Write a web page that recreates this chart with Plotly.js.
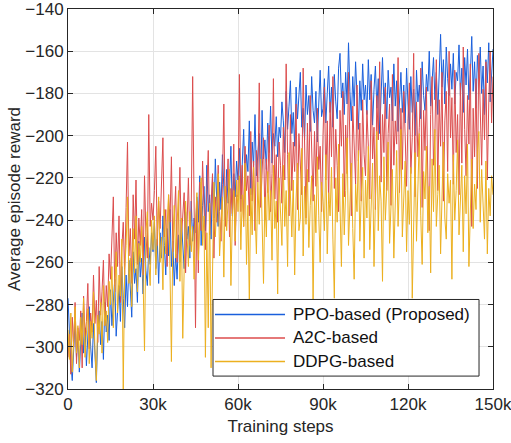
<!DOCTYPE html>
<html>
<head>
<meta charset="utf-8">
<script src="https://cdn.plot.ly/plotly-3.0.1.min.js"></script>
<style>html,body{margin:0;padding:0;background:#fff;}#chart{width:511px;height:443px;}</style>
</head>
<body>
<div id="chart"></div>
<script>
// Training steps: one sample every 500 steps, 0 .. 150k
const STEP = 500;
const xTickVals = [0, 30000, 60000, 90000, 120000, 150000];
const xTickText = ['0', '30k', '60k', '90k', '120k', '150k'];
const yTickVals = [-320, -300, -280, -260, -240, -220, -200, -180, -160, -140];

const seriesNames = ['PPO-based (Proposed)', 'A2C-based', 'DDPG-based'];

const ppoReward = [
  -277,-296,-308,-316,-299,-287,-305,-293,-312,-298,-284,-303,-291,-309,-296,-281,-300,-310,-289,-302,-317,-294,-283,-299,-288,-306,-279,-293,-285,-297,
  -273,-290,-280,-268,-295,-284,-271,-288,-262,-277,-291,-266,-281,-259,-274,-286,-255,-270,-263,-279,-250,-267,-258,-275,-248,-264,-271,-253,-261,-246,
  -255,-241,-263,-249,-270,-246,-258,-238,-252,-266,-244,-257,-235,-262,-250,-271,-256,-268,-247,-260,-240,-254,-263,-236,-249,-243,-258,-231,-250,-239,
  -246,-229,-241,-219,-252,-233,-224,-245,-214,-236,-228,-249,-220,-239,-211,-231,-243,-222,-235,-209,-227,-240,-216,-232,-224,-205,-238,-218,-229,-212,
  -221,-206,-230,-212,-197,-224,-209,-217,-193,-228,-203,-214,-190,-219,-207,-199,-225,-188,-211,-202,-216,-194,-208,-186,-213,-199,-205,-191,-210,-196,
  -201,-184,-193,-208,-179,-197,-186,-174,-199,-189,-205,-177,-192,-183,-170,-196,-187,-202,-176,-190,-181,-198,-172,-188,-194,-179,-203,-185,-169,-191,
  -187,-173,-194,-180,-167,-189,-177,-196,-171,-184,-192,-168,-161,-182,-175,-190,-170,-185,-156,-179,-193,-172,-186,-165,-181,-197,-174,-188,-166,-183,
  -176,-190,-164,-183,-171,-195,-178,-167,-187,-173,-199,-181,-163,-185,-175,-192,-169,-182,-177,-193,-166,-186,-174,-198,-180,-170,-189,-176,-194,-168,
  -185,-197,-172,-189,-178,-200,-169,-184,-176,-192,-165,-181,-188,-171,-179,-160,-186,-174,-163,-183,-170,-190,-167,-152,-177,-164,-185,-158,-173,-181,
  -166,-178,-161,-185,-170,-174,-157,-181,-168,-189,-163,-176,-159,-183,-171,-153,-179,-165,-187,-162,-173,-158,-180,-167,-190,-164,-175,-156,-184,-169,
  -159
];

const a2cReward = [
  -305,-294,-313,-286,-300,-279,-308,-291,-297,-283,-310,-276,-295,-288,-270,-301,-284,-293,-266,-289,-278,-298,-262,-285,-274,-259,-290,-271,-281,-256,
  -268,-251,-229,-274,-246,-262,-238,-279,-253,-241,-266,-234,-203,-257,-244,-270,-228,-249,-221,-261,-239,-252,-235,-266,-219,-247,-258,-190,-243,-232,
  -240,-226,-205,-252,-231,-244,-219,-201,-248,-235,-262,-228,-241,-210,-255,-237,-224,-260,-233,-215,-249,-238,-227,-265,-243,-220,-252,-234,-172,-246,
  -291,-231,-265,-222,-245,-212,-238,-254,-226,-207,-247,-233,-218,-258,-229,-241,-214,-236,-250,-223,-185,-243,-230,-211,-248,-225,-237,-204,-252,-228,
  -229,-171,-236,-214,-243,-205,-226,-219,-238,-198,-231,-212,-245,-207,-222,-175,-234,-216,-201,-240,-211,-227,-195,-236,-218,-173,-230,-209,-241,-203,
  -214,-232,-196,-221,-166,-209,-238,-190,-226,-203,-217,-185,-235,-199,-212,-228,-168,-207,-239,-194,-222,-181,-213,-231,-198,-224,-187,-216,-205,-236,
  -200,-177,-221,-193,-232,-184,-210,-172,-225,-197,-214,-236,-188,-205,-179,-229,-195,-218,-170,-208,-238,-186,-201,-223,-176,-212,-194,-231,-183,-209,
  -219,-188,-205,-230,-174,-211,-196,-235,-181,-202,-165,-222,-190,-208,-177,-226,-199,-185,-233,-171,-214,-193,-204,-163,-227,-187,-216,-179,-200,-224,
  -192,-175,-218,-201,-161,-229,-184,-210,-196,-168,-234,-188,-207,-177,-221,-245,-190,-172,-214,-199,-164,-226,-183,-205,-170,-231,-193,-179,-217,-160,
  -201,-182,-223,-169,-208,-190,-228,-175,-213,-158,-197,-219,-181,-204,-166,-243,-187,-210,-173,-225,-161,-196,-214,-178,-202,-165,-221,-185,-160,-194,
  -172
];

const ddpgReward = [
  -292,-306,-284,-312,-297,-281,-303,-290,-310,-286,-299,-277,-305,-293,-282,-308,-288,-296,-274,-301,-316,-285,-294,-279,-303,-271,-290,-283,-298,-269,
  -280,-262,-291,-271,-255,-284,-266,-276,-249,-320,-263,-252,-229,-270,-258,-281,-244,-265,-238,-274,-251,-260,-243,-268,-302,-246,-236,-259,-271,-240,
  -254,-238,-266,-245,-229,-260,-248,-273,-235,-256,-242,-228,-264,-307,-250,-233,-258,-244,-226,-269,-239,-296,-252,-231,-247,-262,-236,-255,-243,-268,
  -241,-227,-259,-235,-220,-252,-238,-305,-246,-291,-232,-310,-263,-222,-248,-236,-218,-257,-240,-229,-267,-224,-245,-233,-216,-271,-239,-226,-250,-221,
  -236,-219,-254,-228,-243,-213,-261,-233,-280,-225,-247,-215,-238,-256,-222,-242,-211,-235,-270,-229,-248,-217,-240,-226,-259,-214,-244,-231,-275,-220,
  -237,-252,-214,-243,-226,-262,-208,-235,-248,-221,-266,-230,-213,-245,-239,-206,-257,-224,-242,-216,-253,-233,-219,-279,-228,-246,-210,-238,-260,-222,
  -231,-245,-209,-256,-227,-238,-215,-249,-277,-220,-241,-204,-234,-262,-218,-247,-226,-201,-252,-232,-213,-244,-268,-223,-236,-207,-250,-229,-215,-258,
  -221,-239,-205,-254,-228,-213,-262,-234,-198,-245,-219,-231,-269,-210,-240,-225,-203,-251,-236,-216,-258,-229,-207,-243,-222,-197,-248,-233,-212,-255,
  -226,-242,-215,-277,-233,-208,-250,-222,-199,-238,-261,-217,-230,-205,-246,-224,-265,-211,-236,-197,-243,-228,-214,-256,-220,-203,-239,-249,-218,-232,
  -221,-268,-209,-240,-226,-202,-247,-233,-214,-255,-219,-237,-204,-262,-228,-211,-244,-223,-235,-207,-198,-241,-216,-230,-249,-212,-256,-225,-238,-219,
  -228
];

const steps = ppoReward.map((_, i) => i * STEP);

const colors = ['#1a5fdc', '#dc4d4d', '#ecb01f'];
const allSeries = [ppoReward, a2cReward, ddpgReward];

const traces = allSeries.map((vals, k) => ({
  type: 'scatter',
  mode: 'lines',
  x: steps,
  y: vals,
  name: seriesNames[k],
  showlegend: false,
  line: {color: colors[k], width: 1}
}));

// Hand-built legend box (MATLAB style, long line samples)
const legBox = {x0: 0.3412, x1: 0.9671, y0: 0.034, y1: 0.2356};
const legRowsY = [0.1963, 0.1343, 0.0725];
const legLineX = [0.3459, 0.5106];
const legTextX = 0.5247;

const shapes = [{
  type: 'rect', xref: 'paper', yref: 'paper',
  x0: legBox.x0, x1: legBox.x1, y0: legBox.y0, y1: legBox.y1,
  fillcolor: '#ffffff', line: {color: '#262626', width: 1}, layer: 'above'
}];
const annotations = [];
seriesNames.forEach((nm, k) => {
  shapes.push({
    type: 'line', xref: 'paper', yref: 'paper',
    x0: legLineX[0], x1: legLineX[1], y0: legRowsY[k], y1: legRowsY[k],
    line: {color: colors[k], width: 1.5}, layer: 'above'
  });
  annotations.push({
    xref: 'paper', yref: 'paper', x: legTextX, y: legRowsY[k],
    xanchor: 'left', yanchor: 'middle', showarrow: false,
    text: nm, font: {size: 17, color: '#111111'}
  });
});

const axisCommon = {
  ticks: 'inside',
  ticklen: 5,
  tickwidth: 1,
  tickcolor: '#262626',
  showline: true,
  linecolor: '#262626',
  linewidth: 1,
  mirror: 'ticks',
  showgrid: true,
  gridcolor: '#e3e3e3',
  gridwidth: 1,
  zeroline: false,
  ticklabeloverflow: 'allow',
  tickfont: {size: 17, color: '#262626'}
};

const layout = {
  width: 511,
  height: 443,
  margin: {l: 68, r: 18, t: 9, b: 54},
  paper_bgcolor: '#ffffff',
  plot_bgcolor: '#ffffff',
  font: {family: '"Liberation Sans", Arial, sans-serif', size: 17, color: '#262626'},
  showlegend: false,
  xaxis: Object.assign({}, axisCommon, {
    range: [0, 150000],
    tickmode: 'array',
    tickvals: xTickVals,
    ticktext: xTickText,
    title: {text: 'Training steps', font: {size: 17, color: '#262626'}, standoff: 6}
  }),
  yaxis: Object.assign({}, axisCommon, {
    range: [-320, -140],
    tickmode: 'array',
    tickvals: yTickVals,
    title: {text: 'Average episode reward', font: {size: 17, color: '#262626'}, standoff: 0}
  }),
  shapes: shapes,
  annotations: annotations
};

Plotly.newPlot('chart', traces, layout, {staticPlot: true, displayModeBar: false});
</script>
</body>
</html>
